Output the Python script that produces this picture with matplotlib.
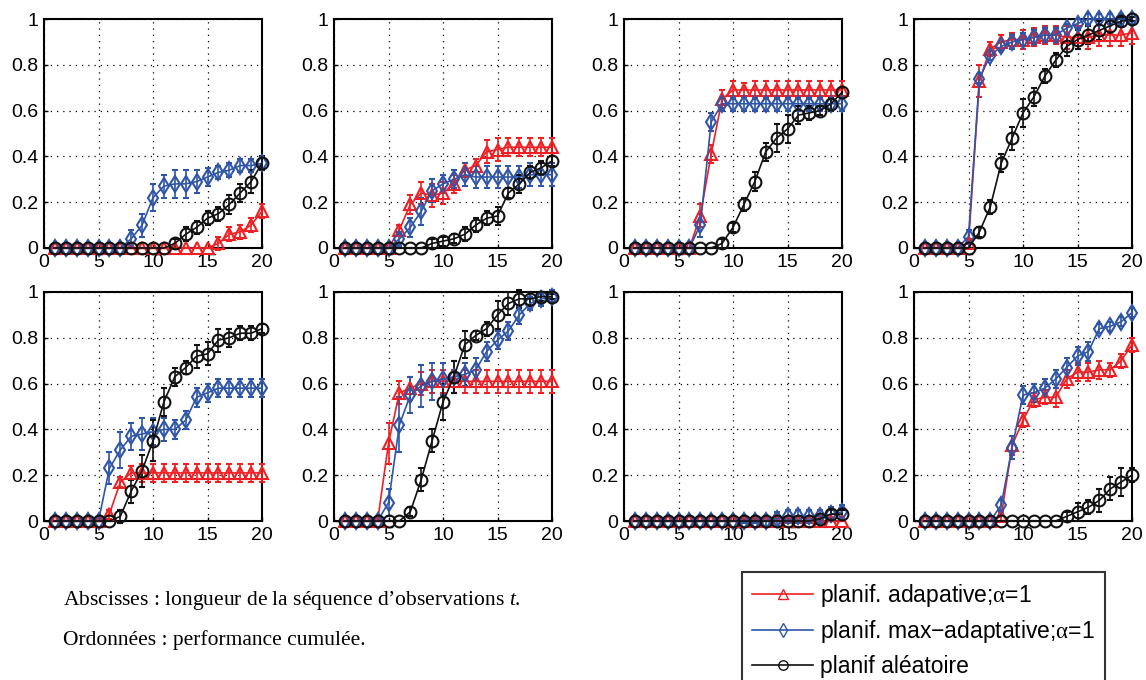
import numpy as np
import matplotlib.pyplot as plt
from matplotlib.lines import Line2D

t = np.arange(1, 21)

# performance cumulée, une ligne par sous-figure (8 sous-figures)
adaptative = [
    [0]*15 + [0.02, 0.06, 0.07, 0.10, 0.16],
    [0]*5 + [0.08, 0.19, 0.24, 0.23, 0.24, 0.28, 0.34, 0.36, 0.42, 0.43, 0.44, 0.44, 0.44, 0.44, 0.44],
    [0]*6 + [0.14, 0.41, 0.65, 0.69, 0.69, 0.69, 0.69, 0.69, 0.69, 0.69, 0.69, 0.69, 0.69, 0.69],
    [0]*4 + [0.02, 0.73, 0.87, 0.90, 0.91, 0.91, 0.92, 0.93, 0.93, 0.92, 0.92, 0.92, 0.93, 0.93, 0.93, 0.94],
    [0]*5 + [0.03, 0.17, 0.21, 0.21, 0.21, 0.21, 0.21, 0.21, 0.21, 0.21, 0.21, 0.21, 0.21, 0.21, 0.21],
    [0]*4 + [0.34, 0.56, 0.58, 0.60, 0.61, 0.61, 0.61, 0.61, 0.61, 0.61, 0.61, 0.61, 0.61, 0.61, 0.61, 0.61],
    [0]*20,
    [0]*7 + [0.02, 0.33, 0.44, 0.53, 0.54, 0.54, 0.62, 0.65, 0.65, 0.66, 0.66, 0.70, 0.77],
]
max_adaptative = [
    [0]*7 + [0.04, 0.10, 0.22, 0.27, 0.28, 0.28, 0.29, 0.31, 0.33, 0.34, 0.36, 0.36, 0.37],
    [0]*5 + [0.04, 0.09, 0.16, 0.25, 0.28, 0.30, 0.32, 0.31, 0.31, 0.31, 0.31, 0.31, 0.32, 0.32, 0.32],
    [0]*6 + [0.10, 0.55, 0.63, 0.63, 0.63, 0.63, 0.63, 0.63, 0.63, 0.63, 0.63, 0.63, 0.63, 0.63],
    [0]*4 + [0.05, 0.74, 0.84, 0.88, 0.90, 0.91, 0.92, 0.93, 0.93, 0.96, 0.98, 1.0, 1.0, 1.0, 1.0, 1.0],
    [0]*5 + [0.23, 0.31, 0.37, 0.38, 0.39, 0.40, 0.40, 0.44, 0.54, 0.56, 0.58, 0.58, 0.58, 0.58, 0.58],
    [0]*4 + [0.08, 0.42, 0.55, 0.59, 0.61, 0.62, 0.63, 0.64, 0.66, 0.74, 0.79, 0.83, 0.90, 0.95, 0.97, 0.98],
    [0]*13 + [0.01, 0.02, 0.02, 0.02, 0.02, 0.03, 0.04],
    [0]*7 + [0.07, 0.32, 0.55, 0.56, 0.58, 0.62, 0.67, 0.72, 0.74, 0.84, 0.85, 0.87, 0.91],
]
aleatoire = [
    [0]*11 + [0.02, 0.06, 0.09, 0.13, 0.15, 0.19, 0.24, 0.29, 0.37],
    [0]*8 + [0.02, 0.03, 0.04, 0.06, 0.10, 0.13, 0.14, 0.24, 0.28, 0.33, 0.35, 0.38],
    [0]*8 + [0.02, 0.09, 0.19, 0.29, 0.42, 0.48, 0.52, 0.58, 0.59, 0.60, 0.63, 0.68],
    [0]*5 + [0.07, 0.18, 0.37, 0.48, 0.59, 0.66, 0.75, 0.82, 0.88, 0.91, 0.93, 0.95, 0.97, 0.99, 1.0],
    [0]*6 + [0.02, 0.13, 0.22, 0.35, 0.52, 0.63, 0.67, 0.72, 0.73, 0.79, 0.80, 0.82, 0.82, 0.84],
    [0]*6 + [0.04, 0.18, 0.35, 0.52, 0.63, 0.77, 0.81, 0.84, 0.90, 0.95, 0.97, 0.97, 0.98, 0.98],
    [0]*17 + [0.01, 0.03, 0.03],
    [0]*13 + [0.02, 0.04, 0.06, 0.09, 0.14, 0.17, 0.20],
]

# demi-largeurs des barres d'erreur
err_adaptative = [
    [0]*15 + [0.03, 0.03, 0.03, 0.03, 0.03],
    [0]*5 + [0.02, 0.04, 0.05, 0.05, 0.05, 0.04, 0.03, 0.03, 0.05, 0.05, 0.04, 0.04, 0.04, 0.04, 0.04],
    [0]*6 + [0.05, 0.04, 0.04, 0.04, 0.03, 0.04, 0.04, 0.04, 0.04, 0.04, 0.04, 0.04, 0.04, 0.04],
    [0]*4 + [0.02, 0.07, 0.03, 0.03, 0.03, 0.04, 0.04, 0.04, 0.04, 0.05, 0.05, 0.05, 0.05, 0.05, 0.05, 0.05],
    [0]*5 + [0.02, 0.02, 0.03, 0.04, 0.04, 0.04, 0.04, 0.04, 0.04, 0.04, 0.04, 0.04, 0.04, 0.04, 0.04],
    [0]*4 + [0.09, 0.05, 0.05, 0.05, 0.05, 0.05, 0.05, 0.05, 0.05, 0.05, 0.05, 0.05, 0.05, 0.05, 0.05, 0.05],
    [0]*20,
    [0]*7 + [0.02, 0.04, 0.03, 0.03, 0.03, 0.04, 0.04, 0.04, 0.04, 0.04, 0.03, 0.03, 0.03],
]
err_max_adaptative = [
    [0]*7 + [0.04, 0.05, 0.06, 0.05, 0.06, 0.06, 0.05, 0.04, 0.03, 0.03, 0.03, 0.03, 0.03],
    [0]*5 + [0.03, 0.04, 0.06, 0.05, 0.04, 0.04, 0.05, 0.05, 0.05, 0.05, 0.05, 0.05, 0.05, 0.05, 0.05],
    [0]*6 + [0.05, 0.04, 0.03, 0.03, 0.03, 0.03, 0.03, 0.03, 0.03, 0.03, 0.03, 0.03, 0.03, 0.03],
    [0]*4 + [0.03, 0.02, 0.02, 0.02, 0.03, 0.03, 0.03, 0.03, 0.03, 0.02, 0.02, 0.02, 0.02, 0.02, 0.02, 0.02],
    [0]*5 + [0.07, 0.08, 0.06, 0.07, 0.06, 0.05, 0.04, 0.04, 0.04, 0.04, 0.04, 0.04, 0.04, 0.04, 0.04],
    [0]*4 + [0.06, 0.12, 0.08, 0.09, 0.08, 0.07, 0.07, 0.05, 0.05, 0.04, 0.04, 0.04, 0.04, 0.03, 0.03, 0.03],
    [0]*10 + [0.01, 0.01, 0.02, 0.03, 0.03, 0.03, 0.03, 0.03, 0.03, 0.03],
    [0]*7 + [0.02, 0.05, 0.04, 0.04, 0.04, 0.04, 0.04, 0.04, 0.04, 0.02, 0.02, 0.02, 0.02],
]
err_aleatoire = [
    [0]*11 + [0.02, 0.03, 0.03, 0.03, 0.03, 0.04, 0.04, 0.05, 0.03],
    [0]*8 + [0.02, 0.02, 0.02, 0.03, 0.03, 0.03, 0.04, 0.02, 0.04, 0.03, 0.03, 0.02],
    [0]*8 + [0.02, 0.02, 0.03, 0.04, 0.04, 0.06, 0.06, 0.04, 0.03, 0.02, 0.03, 0.02],
    [0]*5 + [0.02, 0.03, 0.04, 0.05, 0.06, 0.04, 0.03, 0.03, 0.04, 0.04, 0.04, 0.04, 0.03, 0.02, 0.01],
    [0]*6 + [0.03, 0.05, 0.07, 0.09, 0.06, 0.04, 0.03, 0.05, 0.05, 0.05, 0.04, 0.03, 0.03, 0.02],
    [0]*6 + [0.02, 0.05, 0.05, 0.08, 0.07, 0.06, 0.02, 0.03, 0.06, 0.05, 0.04, 0.03, 0.02, 0.01],
    [0]*17 + [0.01, 0.02, 0.02],
    [0]*13 + [0.02, 0.04, 0.03, 0.05, 0.05, 0.06, 0.03],
]

labels = ['planif. adapative;$\\mathrm{\\alpha}$=1',
          'planif. max\u2212adaptative;$\\mathrm{\\alpha}$=1',
          'planif aléatoire']
colors = ['#ee2024', '#2f55a8', '#111111']
markers = ['^', 'd', 'o']

plt.rcParams['font.family'] = 'Liberation Sans'
plt.rcParams['mathtext.fontset'] = 'custom'
plt.rcParams['mathtext.rm'] = 'Liberation Serif'
plt.rcParams['mathtext.it'] = 'Liberation Serif:italic'

W, H = 1146, 680
fig = plt.figure(figsize=(W/100, H/100), dpi=100)

lefts = [44, 334, 624, 914]
tops = [19, 292]
aw, ah = 218, 229

for k in range(8):
    r, c = divmod(k, 4)
    ax = fig.add_axes([lefts[c]/W, 1 - (tops[r] + ah)/H, aw/W, ah/H])
    series = [(adaptative[k], err_adaptative[k]),
              (max_adaptative[k], err_max_adaptative[k]),
              (aleatoire[k], err_aleatoire[k])]
    for (y, e), col, m in zip(series, colors, markers):
        ax.errorbar(t, y, yerr=e, color=col, marker=m, ms=8.5, mfc='none',
                    mec=col, mew=1.5, lw=1.2, elinewidth=1.2, capsize=2.5,
                    capthick=1.2, clip_on=False, zorder=3)
    ax.set_xlim(0, 20)
    ax.set_ylim(0, 1)
    ax.set_xticks([0, 5, 10, 15, 20])
    ax.set_yticks([0, 0.2, 0.4, 0.6, 0.8, 1])
    ax.set_yticklabels(['0', '0.2', '0.4', '0.6', '0.8', '1'])
    ax.tick_params(direction='in', length=3, labelsize=14, width=1, pad=4)
    ax.grid(True, color='black', linestyle=(0, (1, 4)), linewidth=0.9)
    for s in ax.spines.values():
        s.set_linewidth(1.5)

handles = [Line2D([], [], color=col, marker=m, ms=8.5, mfc='none', mec=col, lw=1.2)
           for col, m in zip(colors, markers)]
leg = fig.legend(handles, labels, loc='upper left',
                 bbox_to_anchor=(742/W, 1 - 572/H), fontsize=16.5,
                 frameon=True, fancybox=False, edgecolor='black',
                 handlelength=2.65, handletextpad=0.3, labelspacing=0.4,
                 borderpad=0.45, markerscale=0.8, borderaxespad=0)
leg.get_frame().set_linewidth(1.5)

fig.text(63/W, 1 - 600/H, 'Abscisses : longueur de la séquence d\u2019observations $t$.',
         family='Liberation Serif', fontsize=15.5, va='center')
fig.text(63/W, 1 - 640/H, 'Ordonnées : performance cumulée.',
         family='Liberation Serif', fontsize=15.5, va='center')

fig.savefig('out.png', dpi=100)
